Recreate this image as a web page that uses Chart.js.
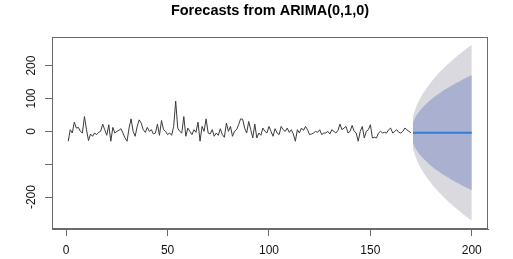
<!DOCTYPE html>
<html>
<head>
<meta charset="utf-8">
<script src="https://cdn.jsdelivr.net/npm/chart.js@4.4.1/dist/chart.umd.min.js"></script>
<style>
  html, body { margin: 0; padding: 0; background: #fff; }
  #wrap { width: 513px; height: 259px; }
</style>
</head>
<body>
<div id="wrap"><canvas id="c" width="513" height="259"></canvas></div>
<script>
// ---- data ----
const titleText = "Forecasts from ARIMA(0,1,0)";
const observed = [
  -30, 5, -5, 28, 10, 12, 0, -5, 45, 5,
  -28, -8, -15, -5, -10, -3, 0, 22, 5, -12,
  20, -30, 12, -5, 0, 3, 8, -5, -20, -30,
  10, 38, 0, -15, 15, 35, 25, 5, -3, 12,
  0, 5, -8, -5, 22, -12, 33, 5, 0, -10,
  -5, -12, 15, 92, 10, 0, -5, 45, -15, 10,
  0, -10, 5, -3, 28, -30, 15, 0, 38, -5,
  -8, 5, -15, -5, -12, 8, -10, -18, 25, 0,
  15, -15, 0, 5, 20, 38, 37, 10, -5, 30,
  5, -20, 22, -20, -5, -12, 10, 0, -5, 15,
  0, -15, 8, -5, -10, 15, 5, 0, 10, -3,
  5, -8, -30, 5, -5, 10, 3, 15, 5, -10,
  -8, -5, 0, -3, 5, -10, -5, -5, 0, -8,
  5, 0, -5, 3, 22, 5, 10, 15, -5, 0,
  18, 0, -5, -30, 0, 15, -20, 0, 5, 20,
  -20, -18, -20, -5, 0, -5, -3, -5, 5, 10,
  -5, 0, 5, -3, -5, 0, 10, 5, 0, -4
];
const forecastTimes = [171,172,173,174,175,176,177,178,179,180,181,182,183,184,185,186,187,188,189,190,191,192,193,194,195,196,197,198,199,200];
const forecastMean = [-4,-4,-4,-4,-4,-4,-4,-4,-4,-4,-4,-4,-4,-4,-4,-4,-4,-4,-4,-4,-4,-4,-4,-4,-4,-4,-4,-4,-4,-4];
const upper80 = [28, 41, 51, 60, 67, 74, 80, 86, 92, 97, 102, 107, 111, 115, 120, 124, 128, 131, 135, 139, 142, 146, 149, 152, 156, 159, 162, 165, 168, 171];
const lower80 = [-36, -49, -59, -68, -75, -82, -88, -94, -100, -105, -110, -115, -119, -123, -128, -132, -136, -139, -143, -147, -150, -154, -157, -160, -164, -167, -170, -173, -176, -179];
const upper95 = [45, 65, 81, 94, 105, 116, 125, 134, 142, 150, 158, 165, 172, 179, 185, 191, 197, 203, 209, 214, 220, 225, 230, 235, 240, 245, 250, 254, 259, 263];
const lower95 = [-53, -73, -89, -102, -113, -124, -133, -142, -150, -158, -166, -173, -180, -187, -193, -199, -205, -211, -217, -222, -228, -233, -238, -243, -248, -253, -258, -262, -267, -271];
const xTicks = [0, 50, 100, 150, 200];
const yTicks = [-200, -100, 0, 100, 200];
const yTickLabels = ["-200", "", "0", "100", "200"];

// ---- build datasets ----
const obsPts = observed.map((v, i) => ({ x: i + 1, y: v }));
const fc = arr => arr.map((v, i) => ({ x: forecastTimes[i], y: v }));

const boxPlugin = {
  id: 'box',
  afterDraw(chart) {
    const a = chart.chartArea, ctx = chart.ctx;
    ctx.save();
    ctx.strokeStyle = '#6a6a6a';
    ctx.lineWidth = 1;
    ctx.strokeRect(Math.round(a.left) + 0.5, Math.round(a.top) + 0.5,
                   Math.round(a.right - a.left) - 1, Math.round(a.bottom - a.top) - 1);
    ctx.restore();
  }
};

const FONT = "'Liberation Sans', Arial, sans-serif";

new Chart(document.getElementById('c'), {
  type: 'line',
  data: {
    datasets: [
      { data: obsPts, borderColor: '#3a3a3a', borderWidth: 1, pointRadius: 0, fill: false, tension: 0 },
      { data: fc(forecastMean), borderColor: '#2f7fd8', borderWidth: 2, pointRadius: 0, fill: false },
      { data: fc(upper80), borderWidth: 0, borderColor: 'rgba(0,0,0,0)', pointRadius: 0, fill: '+1', backgroundColor: '#aab0cf' },
      { data: fc(lower80), borderWidth: 0, borderColor: 'rgba(0,0,0,0)', pointRadius: 0, fill: false },
      { data: fc(upper95), borderWidth: 0, borderColor: 'rgba(0,0,0,0)', pointRadius: 0, fill: '+1', backgroundColor: '#d9d9df' },
      { data: fc(lower95), borderWidth: 0, borderColor: 'rgba(0,0,0,0)', pointRadius: 0, fill: false }
    ]
  },
  options: {
    responsive: false,
    animation: false,
    devicePixelRatio: 1,
    layout: { padding: { left: 0, right: 25, top: 0, bottom: 0 } },
    plugins: {
      legend: { display: false },
      tooltip: { enabled: false },
      title: {
        display: true,
        fullSize: false,
        text: titleText,
        color: '#000',
        font: { family: FONT, size: 14.5, weight: 'bold' },
        padding: { top: 2, bottom: 17.6 }
      }
    },
    scales: {
      x: {
        type: 'linear',
        min: -7, max: 208,
        afterBuildTicks: s => { s.ticks = xTicks.map(v => ({ value: v })); },
        afterFit: s => { s.height = 30; },
        grid: { drawOnChartArea: false, drawTicks: true, tickLength: 7, color: '#6a6a6a' },
        border: { display: true, color: '#6a6a6a' },
        ticks: { color: '#111', font: { family: FONT, size: 12 }, padding: 7, maxRotation: 0, minRotation: 0 }
      },
      y: {
        type: 'linear',
        min: -297, max: 287,
        afterBuildTicks: s => { s.ticks = yTicks.map(v => ({ value: v })); },
        afterFit: s => { s.width = 52; },
        grid: { drawOnChartArea: false, drawTicks: true, tickLength: 7, color: '#6a6a6a' },
        border: { display: true, color: '#6a6a6a' },
        ticks: {
          color: '#111', font: { family: FONT, size: 12 },
          padding: 1, minRotation: 90, maxRotation: 90, crossAlign: 'center',
          callback: (v) => { const i = yTicks.indexOf(v); return i >= 0 ? yTickLabels[i] : ''; }
        }
      }
    }
  },
  plugins: [boxPlugin]
});
</script>
</body>
</html>
